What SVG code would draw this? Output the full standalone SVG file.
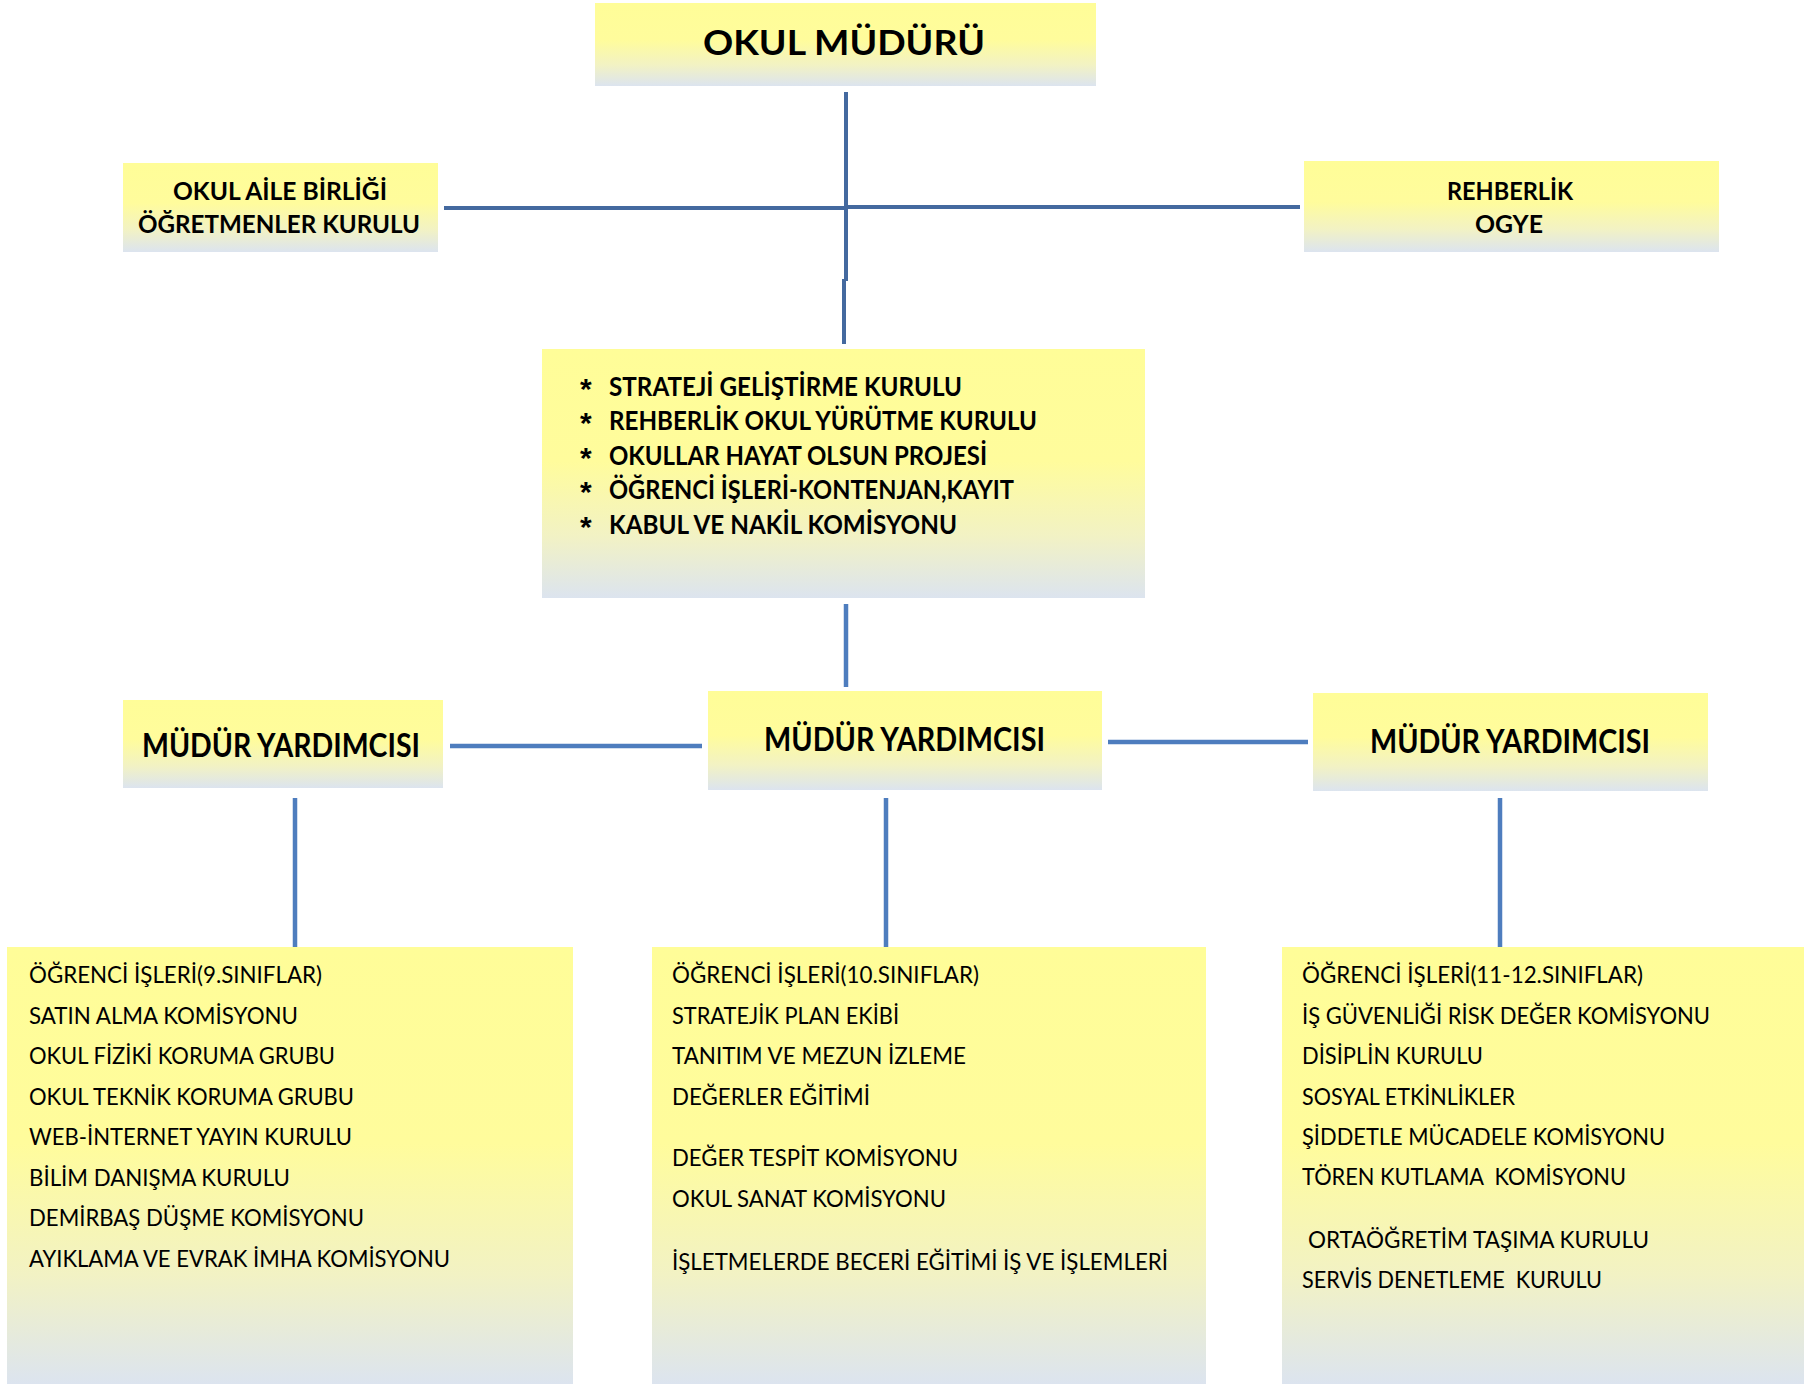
<svg xmlns="http://www.w3.org/2000/svg" width="1804" height="1386" viewBox="0 0 1804 1386">
<defs>
<linearGradient id="fill" x1="0" y1="0" x2="0" y2="1">
<stop offset="0" stop-color="#FFFD98"/>
<stop offset="0.45" stop-color="#FFFC9C"/>
<stop offset="0.75" stop-color="#F2F2C4"/>
<stop offset="1" stop-color="#DCE4EF"/>
</linearGradient>
<style>
.box{fill:url(#fill);}
.b{font-family:Lato,"Open Sans","Liberation Sans",sans-serif;font-weight:700;fill:#000;}
.r{font-family:Lato,"Open Sans","Liberation Sans",sans-serif;font-weight:400;fill:#000;font-size:23px;}
.ast{font-family:"Liberation Sans",Arial,sans-serif;font-weight:700;font-size:30px;fill:#000;}
.c1{stroke:#44699F;stroke-width:4;fill:none;}
.c2{stroke:#4E7DBE;stroke-width:4.5;fill:none;}
</style>
</defs>
<rect width="1804" height="1386" fill="#fff"/>
<g id="connectors">
<line class="c1" x1="846" y1="92" x2="846" y2="281"/>
<line class="c1" x1="844" y1="279" x2="844" y2="344"/>
<line class="c1" x1="444" y1="208" x2="846" y2="208"/>
<line class="c1" x1="846" y1="207" x2="1300" y2="207"/>
<line class="c2" x1="846" y1="604" x2="846" y2="687"/>
<line class="c2" x1="450" y1="746" x2="702" y2="746"/>
<line class="c2" x1="1108" y1="742" x2="1308" y2="742"/>
<line class="c2" x1="295" y1="798" x2="295" y2="949"/>
<line class="c2" x1="886" y1="798" x2="886" y2="949"/>
<line class="c2" x1="1500" y1="798" x2="1500" y2="949"/>
</g>
<g id="okul-muduru">
<rect class="box" x="595" y="3" width="501" height="83"/>
<text class="b" x="703" y="55" font-size="34" textLength="282" lengthAdjust="spacingAndGlyphs">OKUL MÜDÜRÜ</text>
</g>
<g id="okul-aile">
<rect class="box" x="123" y="163" width="315" height="89"/>
<text class="b" x="173" y="200" font-size="25" textLength="214" lengthAdjust="spacingAndGlyphs">OKUL AİLE BİRLİĞİ</text>
<text class="b" x="138" y="233" font-size="25" textLength="282" lengthAdjust="spacingAndGlyphs">ÖĞRETMENLER KURULU</text>
</g>
<g id="rehberlik">
<rect class="box" x="1304" y="161" width="415" height="91"/>
<text class="b" x="1447" y="200" font-size="25" textLength="126" lengthAdjust="spacingAndGlyphs">REHBERLİK</text>
<text class="b" x="1475" y="233" font-size="25" textLength="68" lengthAdjust="spacingAndGlyphs">OGYE</text>
</g>
<g id="kurullar">
<rect class="box" x="542" y="349" width="603" height="249"/>
<text class="ast" x="580" y="399">*</text>
<text class="ast" x="580" y="433">*</text>
<text class="ast" x="580" y="468">*</text>
<text class="ast" x="580" y="502">*</text>
<text class="ast" x="580" y="537">*</text>
<g class="b" font-size="27">
<text x="609" y="396" textLength="353" lengthAdjust="spacingAndGlyphs">STRATEJİ GELİŞTİRME KURULU</text>
<text x="609" y="430" textLength="428" lengthAdjust="spacingAndGlyphs">REHBERLİK OKUL YÜRÜTME KURULU</text>
<text x="609" y="465" textLength="378" lengthAdjust="spacingAndGlyphs">OKULLAR HAYAT OLSUN PROJESİ</text>
<text x="609" y="499" textLength="405" lengthAdjust="spacingAndGlyphs">ÖĞRENCİ İŞLERİ-KONTENJAN,KAYIT</text>
<text x="609" y="534" textLength="348" lengthAdjust="spacingAndGlyphs">KABUL VE NAKİL KOMİSYONU</text>
</g>
</g>
<g id="mudur-yardimcisi-1">
<rect class="box" x="123" y="700" width="320" height="88"/>
<text class="b" x="142" y="757" font-size="33" textLength="278" lengthAdjust="spacingAndGlyphs">MÜDÜR YARDIMCISI</text>
</g>
<g id="mudur-yardimcisi-2">
<rect class="box" x="708" y="691" width="394" height="99"/>
<text class="b" x="764" y="751" font-size="33" textLength="281" lengthAdjust="spacingAndGlyphs">MÜDÜR YARDIMCISI</text>
</g>
<g id="mudur-yardimcisi-3">
<rect class="box" x="1313" y="693" width="395" height="98"/>
<text class="b" x="1370" y="753" font-size="33" textLength="280" lengthAdjust="spacingAndGlyphs">MÜDÜR YARDIMCISI</text>
</g>
<g id="gorevler-1">
<rect class="box" x="7" y="947" width="566" height="437"/>
<g class="r">
<text x="29" y="983" textLength="293" lengthAdjust="spacingAndGlyphs">ÖĞRENCİ İŞLERİ(9.SINIFLAR)</text>
<text x="29" y="1023.5" textLength="269" lengthAdjust="spacingAndGlyphs">SATIN ALMA KOMİSYONU</text>
<text x="29" y="1064" textLength="306" lengthAdjust="spacingAndGlyphs">OKUL FİZİKİ KORUMA GRUBU</text>
<text x="29" y="1104.5" textLength="325" lengthAdjust="spacingAndGlyphs">OKUL TEKNİK KORUMA GRUBU</text>
<text x="29" y="1145" textLength="323" lengthAdjust="spacingAndGlyphs">WEB-İNTERNET YAYIN KURULU</text>
<text x="29" y="1185.5" textLength="261" lengthAdjust="spacingAndGlyphs">BİLİM DANIŞMA KURULU</text>
<text x="29" y="1226" textLength="335" lengthAdjust="spacingAndGlyphs">DEMİRBAŞ DÜŞME KOMİSYONU</text>
<text x="29" y="1266.5" textLength="421" lengthAdjust="spacingAndGlyphs">AYIKLAMA VE EVRAK İMHA KOMİSYONU</text>
</g>
</g>
<g id="gorevler-2">
<rect class="box" x="652" y="947" width="554" height="437"/>
<g class="r">
<text x="672" y="983" textLength="307" lengthAdjust="spacingAndGlyphs">ÖĞRENCİ İŞLERİ(10.SINIFLAR)</text>
<text x="672" y="1023.5" textLength="227" lengthAdjust="spacingAndGlyphs">STRATEJİK PLAN EKİBİ</text>
<text x="672" y="1064" textLength="294" lengthAdjust="spacingAndGlyphs">TANITIM VE MEZUN İZLEME</text>
<text x="672" y="1104.5" textLength="198" lengthAdjust="spacingAndGlyphs">DEĞERLER EĞİTİMİ</text>
<text x="672" y="1166" textLength="286" lengthAdjust="spacingAndGlyphs">DEĞER TESPİT KOMİSYONU</text>
<text x="672" y="1207" textLength="274" lengthAdjust="spacingAndGlyphs">OKUL SANAT KOMİSYONU</text>
<text x="672" y="1270" textLength="496" lengthAdjust="spacingAndGlyphs">İŞLETMELERDE BECERİ EĞİTİMİ İŞ VE İŞLEMLERİ</text>
</g>
</g>
<g id="gorevler-3">
<rect class="box" x="1282" y="947" width="522" height="437"/>
<g class="r">
<text x="1302" y="983" textLength="341" lengthAdjust="spacingAndGlyphs">ÖĞRENCİ İŞLERİ(11-12.SINIFLAR)</text>
<text x="1302" y="1023.5" textLength="408" lengthAdjust="spacingAndGlyphs">İŞ GÜVENLİĞİ RİSK DEĞER KOMİSYONU</text>
<text x="1302" y="1064" textLength="181" lengthAdjust="spacingAndGlyphs">DİSİPLİN KURULU</text>
<text x="1302" y="1104.5" textLength="213" lengthAdjust="spacingAndGlyphs">SOSYAL ETKİNLİKLER</text>
<text x="1302" y="1145" textLength="363" lengthAdjust="spacingAndGlyphs">ŞİDDETLE MÜCADELE KOMİSYONU</text>
<text x="1302" y="1185" textLength="324" lengthAdjust="spacingAndGlyphs" xml:space="preserve">TÖREN KUTLAMA  KOMİSYONU</text>
<text x="1308" y="1248" textLength="341" lengthAdjust="spacingAndGlyphs">ORTAÖĞRETİM TAŞIMA KURULU</text>
<text x="1302" y="1288" textLength="300" lengthAdjust="spacingAndGlyphs" xml:space="preserve">SERVİS DENETLEME  KURULU</text>
</g>
</g>
</svg>
